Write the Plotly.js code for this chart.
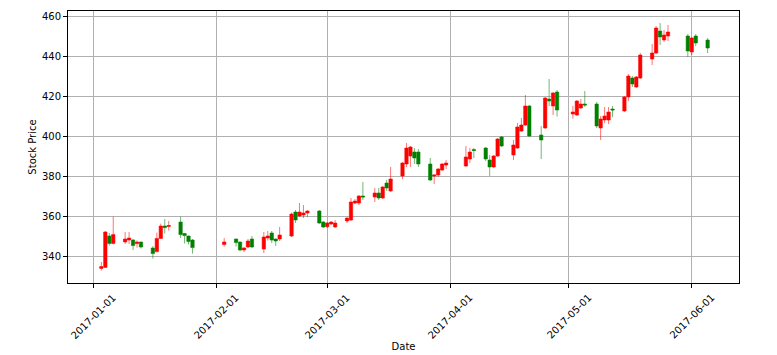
<!DOCTYPE html>
<html><head><meta charset="utf-8">
<script src="https://cdn.plot.ly/plotly-3.0.1.min.js"></script>
<style>html,body{margin:0;padding:0;background:#fff}#chart{width:777px;height:355px}</style>
</head><body><div id="chart"></div>
<script>
const dates = ['2017-01-03','2017-01-04','2017-01-05','2017-01-06','2017-01-09','2017-01-10','2017-01-11','2017-01-12','2017-01-13','2017-01-16','2017-01-17','2017-01-18','2017-01-19','2017-01-20','2017-01-23','2017-01-24','2017-01-25','2017-01-26',
'2017-02-03','2017-02-06','2017-02-07','2017-02-08','2017-02-09','2017-02-10','2017-02-13','2017-02-14','2017-02-15','2017-02-16','2017-02-17','2017-02-20','2017-02-21','2017-02-22','2017-02-23','2017-02-24','2017-02-27','2017-02-28',
'2017-03-01','2017-03-02','2017-03-03','2017-03-06','2017-03-07','2017-03-08','2017-03-09','2017-03-10','2017-03-13','2017-03-14','2017-03-15','2017-03-16','2017-03-17','2017-03-20','2017-03-21','2017-03-22','2017-03-23','2017-03-24','2017-03-27','2017-03-28','2017-03-29','2017-03-30','2017-03-31',
'2017-04-05','2017-04-06','2017-04-07','2017-04-10','2017-04-11','2017-04-12','2017-04-13','2017-04-14','2017-04-17','2017-04-18','2017-04-19','2017-04-20','2017-04-21','2017-04-24','2017-04-25','2017-04-26','2017-04-27','2017-04-28',
'2017-05-02','2017-05-03','2017-05-04','2017-05-05','2017-05-08','2017-05-09','2017-05-10','2017-05-11','2017-05-12','2017-05-15','2017-05-16','2017-05-17','2017-05-18','2017-05-19','2017-05-22','2017-05-23','2017-05-24','2017-05-25','2017-05-26','2017-05-31',
'2017-06-01','2017-06-02','2017-06-05'];
const openP = [333.8,334.3,350.0,346.3,347.0,348.0,348.0,346.2,347.0,344.0,342.2,348.8,355.0,354.8,357.0,351.2,350.0,348.0,
345.7,348.5,347.0,343.0,344.5,348.5,343.5,349.0,351.5,348.5,348.5,350.0,362.0,360.0,360.5,361.5,362.5,357.0,
354.6,356.0,354.5,357.5,358.0,366.5,366.5,370.0,369.5,371.5,369.0,376.5,372.5,380.0,386.0,390.0,392.0,392.0,386.0,380.0,380.5,383.0,385.5,
385.0,388.5,393.2,394.0,388.0,384.5,390.0,399.5,390.5,394.0,402.5,405.5,415.0,400.5,404.0,418.5,415.0,422.0,
411.0,410.5,414.0,416.0,416.0,404.0,408.0,408.0,413.5,412.5,419.5,429.0,424.5,429.0,438.5,441.5,452.5,448.0,450.0,450.0,
442.0,450.0,448.0];
const highP = [337.0,352.5,351.5,359.7,352.0,352.0,348.5,347.8,347.2,345.0,351.7,356.2,358.5,357.5,359.7,351.5,350.2,348.5,
349.0,348.7,347.2,344.5,348.5,350.0,352.0,352.5,352.5,348.7,354.5,361.7,363.0,366.5,365.5,363.0,363.0,357.5,
357.0,357.5,358.0,359.3,369.0,368.5,370.5,377.0,374.0,374.0,375.0,378.0,384.5,387.0,396.5,395.0,394.0,393.5,389.0,380.7,384.0,386.5,388.0,
395.0,394.0,394.0,394.5,390.5,390.5,399.0,400.0,398.0,406.5,409.0,420.5,415.5,405.0,419.5,428.5,422.0,423.0,
415.0,418.0,418.5,422.5,417.0,410.0,414.5,414.5,415.0,420.0,431.0,430.0,430.0,441.5,446.0,455.0,456.5,453.0,455.5,451.0,
449.5,451.0,449.0];
const lowP = [332.7,334.0,345.2,345.7,346.0,346.0,343.0,344.2,343.7,338.7,341.7,348.5,351.2,352.7,349.0,346.2,345.8,341.2,
344.7,344.7,342.3,342.0,344.0,344.0,341.5,347.7,346.5,345.0,347.5,349.5,356.5,359.5,359.0,359.5,356.0,354.0,
354.0,355.5,354.0,356.5,357.5,366.0,365.5,368.0,367.0,368.0,368.5,372.5,372.0,378.5,384.5,384.5,386.0,384.5,377.5,376.0,379.5,382.5,383.5,
384.5,386.5,389.0,387.5,380.0,384.0,389.5,394.5,388.0,393.5,402.0,405.0,399.5,388.5,403.5,415.0,410.5,409.7,
408.7,410.0,413.5,414.5,404.0,398.0,406.5,406.0,409.5,412.0,417.5,424.5,424.0,428.5,435.5,441.0,445.5,447.0,447.5,439.5,
440.5,445.0,441.5];
const closeP = [334.7,352.0,346.3,350.7,348.5,349.0,345.2,347.0,344.5,341.2,348.8,355.0,354.2,355.2,350.7,350.2,347.2,344.2,
347.0,346.7,343.0,344.0,347.5,344.5,349.5,350.0,348.0,347.5,350.5,361.0,358.0,362.0,361.5,362.5,356.5,354.5,
356.5,357.0,356.5,359.0,367.0,367.5,370.0,369.5,371.5,369.0,374.5,374.0,378.5,386.5,394.0,394.5,389.0,386.0,378.0,380.5,383.5,386.0,386.5,
389.5,392.0,392.8,388.5,384.5,390.0,398.5,395.0,395.5,404.5,405.5,415.0,400.0,398.0,419.0,417.5,421.5,413.0,
412.0,417.5,416.0,415.5,405.0,408.5,410.0,412.0,413.0,419.5,430.0,426.0,429.5,440.5,441.5,454.0,449.5,450.5,452.0,442.5,
449.0,446.5,444.0];

const xTickDates = ['2017-01-01','2017-02-01','2017-03-01','2017-04-01','2017-05-01','2017-06-01'];
const xTickLabels = ['2017-01-01','2017-02-01','2017-03-01','2017-04-01','2017-05-01','2017-06-01'];
const yTickVals = [340,360,380,400,420,440,460];

const trace = {
  type:'candlestick', x:dates, open:openP, high:highP, low:lowP, close:closeP,
  increasing:{line:{color:'rgba(255,0,0,0.55)', width:1}, fillcolor:'#ff0000'},
  decreasing:{line:{color:'rgba(0,128,0,0.55)', width:1}, fillcolor:'#008000'},
  whiskerwidth:0, showlegend:false
};

const annotations = xTickDates.map((d,i)=>({
  x:d, xref:'x', y:-0.022, yref:'paper', text:xTickLabels[i], textangle:-45,
  showarrow:false, xanchor:'center', yanchor:'top',
  font:{family:'DejaVu Sans', size:10, color:'#000'}
}));

const layout = {
  width:777, height:355,
  margin:{l:68, r:38, t:11, b:72},
  paper_bgcolor:'#fff', plot_bgcolor:'#fff',
  font:{family:'DejaVu Sans', size:10, color:'#000'},
  boxgap:0.15, boxgroupgap:0,
  showlegend:false,
  xaxis:{
    type:'date', range:['2016-12-25 14:00','2017-06-12 22:00'],
    tickvals:xTickDates, showticklabels:false,
    ticks:'outside', ticklen:4, tickcolor:'#000', tickwidth:1,
    showgrid:true, gridcolor:'#b0b0b0', gridwidth:1,
    showline:true, linecolor:'#000', linewidth:1, mirror:true, zeroline:false,
    rangeslider:{visible:false},
    title:{text:'Date', standoff:55, font:{family:'DejaVu Sans', size:10, color:'#000'}}
  },
  yaxis:{
    range:[326.5,462.5], tickvals:yTickVals,
    ticks:'outside', ticklen:4, tickcolor:'#000', tickwidth:1,
    showgrid:true, gridcolor:'#b0b0b0', gridwidth:1,
    showline:true, linecolor:'#000', linewidth:1, mirror:true, zeroline:false,
    title:{text:'Stock Price', standoff:3, font:{family:'DejaVu Sans', size:10, color:'#000'}}
  },
  annotations:annotations
};

Plotly.newPlot('chart',[trace],layout,{displayModeBar:false, staticPlot:true});
</script></body></html>
